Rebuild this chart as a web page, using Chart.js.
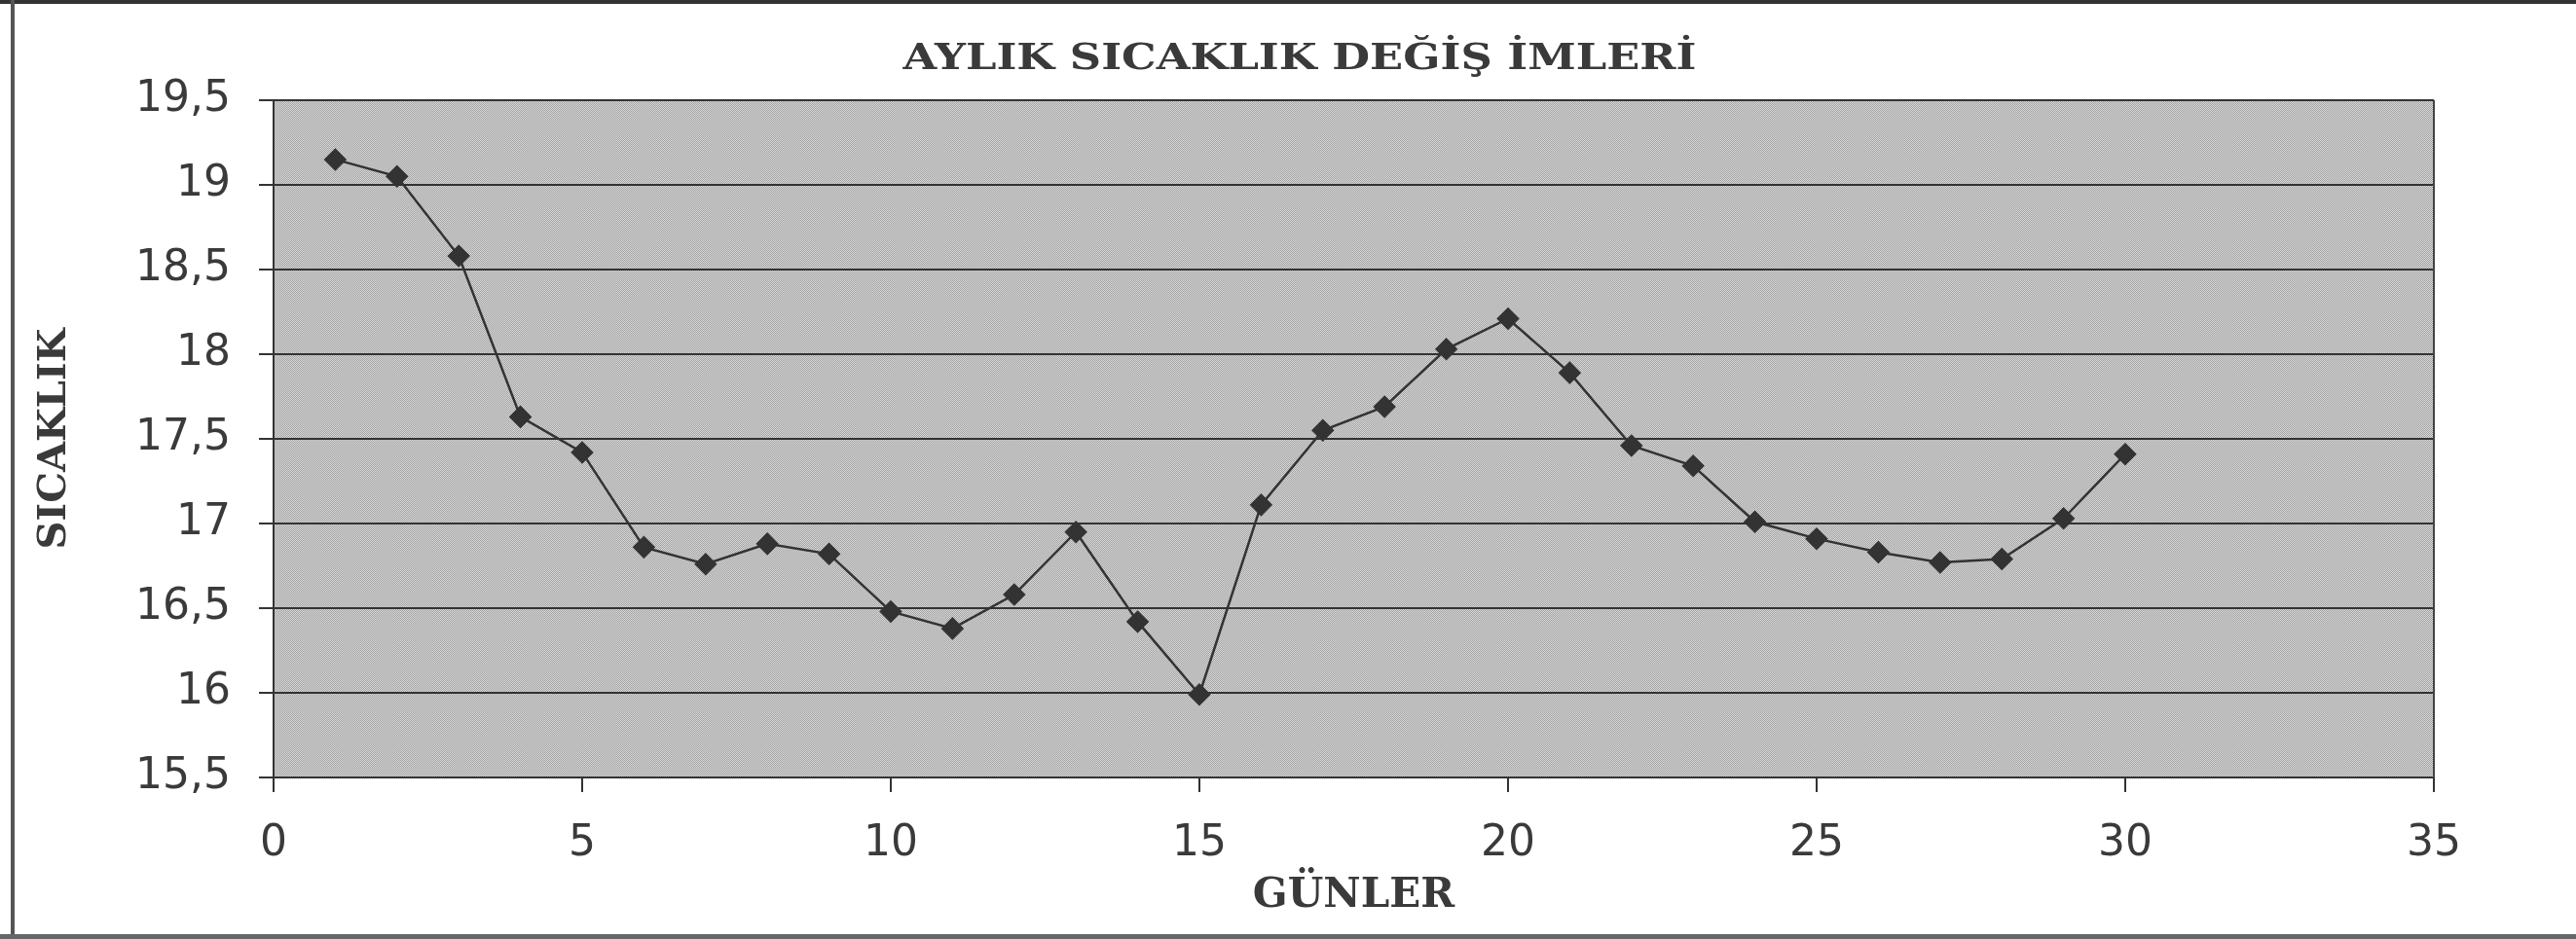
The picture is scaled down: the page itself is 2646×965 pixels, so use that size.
<!DOCTYPE html>
<html>
<head>
<meta charset="utf-8">
<script src="https://cdn.jsdelivr.net/npm/chart.js@4/dist/chart.umd.min.js"></script>
<style>
  html, body { margin: 0; padding: 0; background: #fff; }
  #wrap { width: 2646px; height: 965px; position: relative; }
</style>
</head>
<body>
<div id="wrap"><canvas id="myChart" width="2646" height="965"></canvas></div>
<script>
// aylik sicaklik grafigi

var gunler = [1, 2, 3, 4, 5, 6, 7, 8, 9, 10, 11, 12, 13, 14, 15, 16, 17, 18, 19, 20, 21, 22, 23, 24, 25, 26, 27, 28, 29, 30];
var sicaklik = [19.15, 19.05, 18.58, 17.63, 17.42, 16.86, 16.76, 16.88, 16.82, 16.48, 16.38, 16.58, 16.95, 16.42, 15.99,
                17.11, 17.55, 17.69, 18.03, 18.21, 17.89, 17.46, 17.34, 17.01, 16.91, 16.83, 16.77, 16.79, 17.03, 17.41];
var xTicks = [0, 5, 10, 15, 20, 25, 30, 35];
var yTicks = ['15,5', '16', '16,5', '17', '17,5', '18', '18,5', '19', '19,5'];
var baslik = 'AYLIK SICAKLIK DEĞİŞ İMLERİ';

// grey dithered background like the scanned plot area
var pc = document.createElement('canvas');
pc.width = 2; pc.height = 2;
var pctx = pc.getContext('2d');
pctx.fillStyle = '#d8d8d8'; pctx.fillRect(0, 0, 2, 2);
pctx.fillStyle = '#a2a2a2'; pctx.fillRect(0, 0, 1, 1); pctx.fillRect(1, 1, 1, 1);

var plotBg = {
    id: 'plotBg',
    beforeDraw: function (chart) {
        var c = chart.ctx, a = chart.chartArea;
        c.save();
        c.fillStyle = '#ffffff';
        c.fillRect(0, 0, chart.width, chart.height);
        c.fillStyle = c.createPattern(pc, 'repeat');
        c.fillRect(a.left, a.top, a.right - a.left, a.bottom - a.top);
        // outer frame of the scanned page
        c.fillStyle = '#333';
        c.fillRect(0, 0, chart.width, 4);
        c.fillStyle = '#555';
        c.fillRect(11, 0, 4, chart.height);
        c.fillStyle = '#666';
        c.fillRect(0, chart.height - 5, chart.width, 5);
        c.restore();
    },
    afterDraw: function (chart) {
        var c = chart.ctx, a = chart.chartArea;
        c.save();
        c.strokeStyle = '#444';
        c.lineWidth = 2;
        c.beginPath();
        c.moveTo(a.right, a.top);
        c.lineTo(a.right, a.bottom);
        c.stroke();
        // title, stretched a little like the scanned one
        c.fillStyle = '#3a3a3a';
        c.font = 'bold 38px "DejaVu Serif"';
        c.textAlign = 'center';
        c.textBaseline = 'middle';
        var w = c.measureText(baslik).width;
        c.translate(1335, 61);
        c.scale(815 / w, 1);
        c.fillText(baslik, 0, 0);
        c.restore();
    }
};

var ctx = document.getElementById('myChart').getContext('2d');
var myChart = new Chart(ctx, {
    type: 'line',
    data: {
        datasets: [{
            label: 'Sıcaklık',
            data: gunler.map(function (g, i) { return { x: g, y: sicaklik[i] }; }),
            borderColor: '#333',
            borderWidth: 2.5,
            pointStyle: 'rectRot',
            pointRadius: 10,
            pointBackgroundColor: '#333',
            pointBorderColor: '#333',
            tension: 0
        }]
    },
    plugins: [plotBg],
    options: {
        responsive: false,
        animation: false,
        layout: { padding: { left: 0, right: 146, top: 103, bottom: 19 } },
        plugins: {
            legend: { display: false },
            tooltip: { enabled: false },
            title: { display: false }
        },
        scales: {
            x: {
                type: 'linear',
                min: 0,
                max: 35,
                afterBuildTicks: function (s) { s.ticks = xTicks.map(function (v) { return { value: v }; }); },
                afterFit: function (s) { s.height = 965 - 19 - 799; },
                ticks: {
                    color: '#3a3a3a',
                    padding: 27,
                    font: { family: 'DejaVu Sans', size: 44 },
                    callback: function (v) { return String(v); }
                },
                grid: { drawOnChartArea: false, drawTicks: true, tickLength: 15, color: '#333', lineWidth: 2 },
                border: { display: true, color: '#333', width: 2 },
                title: {
                    display: true,
                    text: 'GÜNLER',
                    color: '#3a3a3a',
                    font: { family: 'DejaVu Serif', size: 42, weight: 'bold' },
                    padding: { top: 0, bottom: 0 }
                }
            },
            y: {
                type: 'linear',
                min: 15.5,
                max: 19.5,
                afterBuildTicks: function (s) {
                    s.ticks = yTicks.map(function (t) { return { value: parseFloat(t.replace(',', '.')) }; });
                },
                afterFit: function (s) { s.width = 281; },
                ticks: {
                    color: '#3a3a3a',
                    padding: 29,
                    font: { family: 'DejaVu Sans', size: 44 },
                    callback: function (v, i) { return yTicks[i]; }
                },
                grid: { drawOnChartArea: true, drawTicks: true, tickLength: 15, color: '#333', lineWidth: 2 },
                border: { display: true, color: '#333', width: 2 },
                title: {
                    display: true,
                    text: 'SICAKLIK',
                    color: '#3a3a3a',
                    font: { family: 'DejaVu Serif', size: 40, weight: 'bold' },
                    padding: { top: 33, bottom: 0 }
                }
            }
        }
    }
});
</script>
</body>
</html>
